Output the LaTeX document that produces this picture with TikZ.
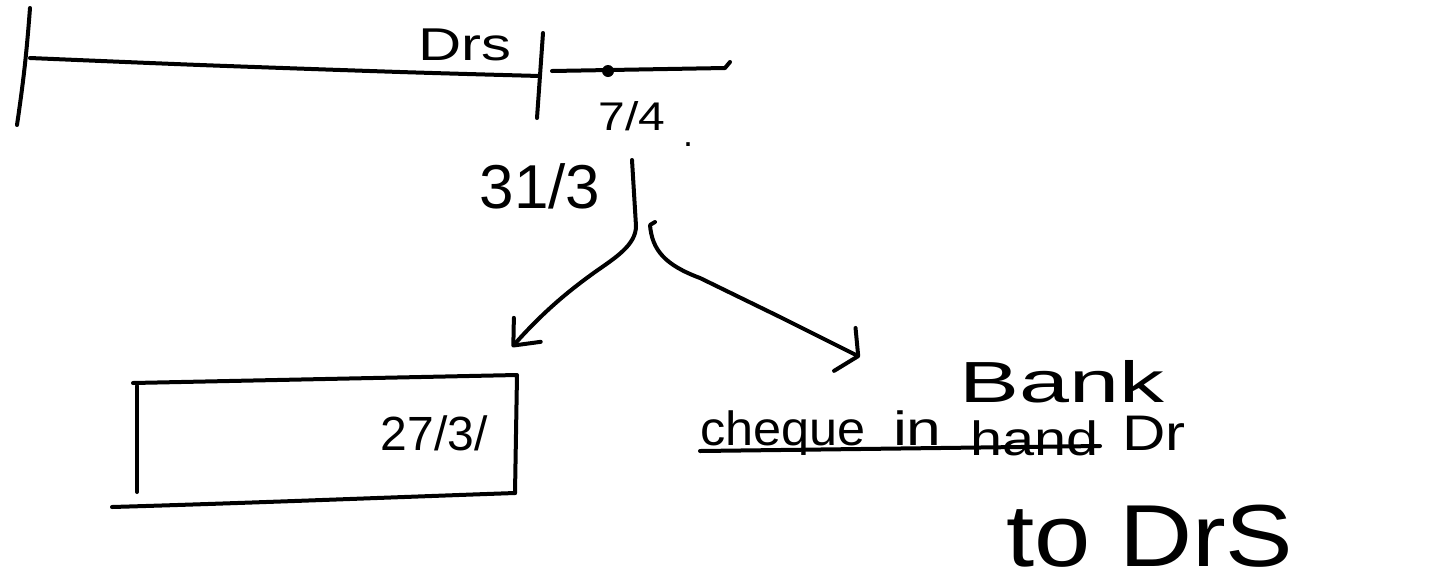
\documentclass[tikz,border=0pt]{standalone}
\usepackage{fontspec}
\setmainfont{Liberation Sans}
\usetikzlibrary{arrows.meta}
\tikzset{
  ink/.style={line width=4pt, line cap=round, line join=round},
  hw/.style={inner sep=0pt, outer sep=0pt, anchor=base},
  hwl/.style={inner sep=0pt, outer sep=0pt, anchor=base west},
  tipA/.style={-{Straight Barb[length=21pt,width=36pt,round]}},
  tipB/.style={-{Straight Barb[length=15pt,width=48pt,round]}},
}
\newcommand{\hwt}[3]{\fontsize{#1}{#1}\selectfont\scalebox{#2}[1]{#3}}
\begin{document}
\begin{tikzpicture}[x=1pt,y=-1pt]
\useasboundingbox (0,0) rectangle (1450,582);
% timeline
\draw[ink] (30,8) to[bend left=2] (17,125);
\draw[ink] plot[smooth] coordinates {(30,58) (200,65) (400,72) (540,76)};
\draw[ink] (543,33) -- (537,118);
\draw[ink] (552,71) -- (725,68) -- (730,62);
\fill (608,71) circle[radius=6];
\node[hw] (drs) at (465,60) {\hwt{46}{1.3}{Drs}};
\node[hw] (d74) at (632,130) {\hwt{40}{1.2}{7/4}};
\node[hw] (per) at (688,146) {\hwt{36}{1}{.}};
\node[hw] (d313) at (540,208) {\hwt{62}{1}{31/3}};
% split and arrows
\coordinate (top) at (632,160);
\coordinate (split) at (636,226);
\coordinate (boxtip) at (512,347);
\coordinate (start2) at (650,225);
\coordinate (banktip) at (860,357);
\draw[ink,tipA] (top) -- (split) .. controls (636,245) and (615,258) .. (595,272)
  .. controls (570,290) and (545,310) .. (boxtip);
\draw[ink,tipB] (655,222) -- (start2) .. controls (652,250) and (665,265) .. (700,278)
  -- (780,317) -- (banktip);
% box
\draw[ink] (133,383) -- (517,375) -- (515,493);
\draw[ink] (137,386) -- (137,492);
\draw[ink] (112,507) .. controls (250,503) and (400,497) .. (515,493);
\node[hw] (d273) at (434,450) {\hwt{48}{1}{27/3/}};
% right text
\node[hw] (bank) at (1062,402) {\hwt{58}{1.55}{Bank}};
\node[hwl] (cheque) at (700,445) {\hwt{48}{1.05}{cheque}};
\node[hwl] (in) at (893,445) {\hwt{48}{1.3}{in}};
\node[hwl] (hand) at (970,455) {\hwt{48}{1.2}{hand}};
\node[hwl] (dr) at (1122,450) {\hwt{50}{1.2}{Dr}};
\draw[ink] (700,451) -- (1100,446);
\node[hw] (todrs) at (1150,566) {\hwt{88}{1.15}{to DrS}};
\end{tikzpicture}
\end{document}
